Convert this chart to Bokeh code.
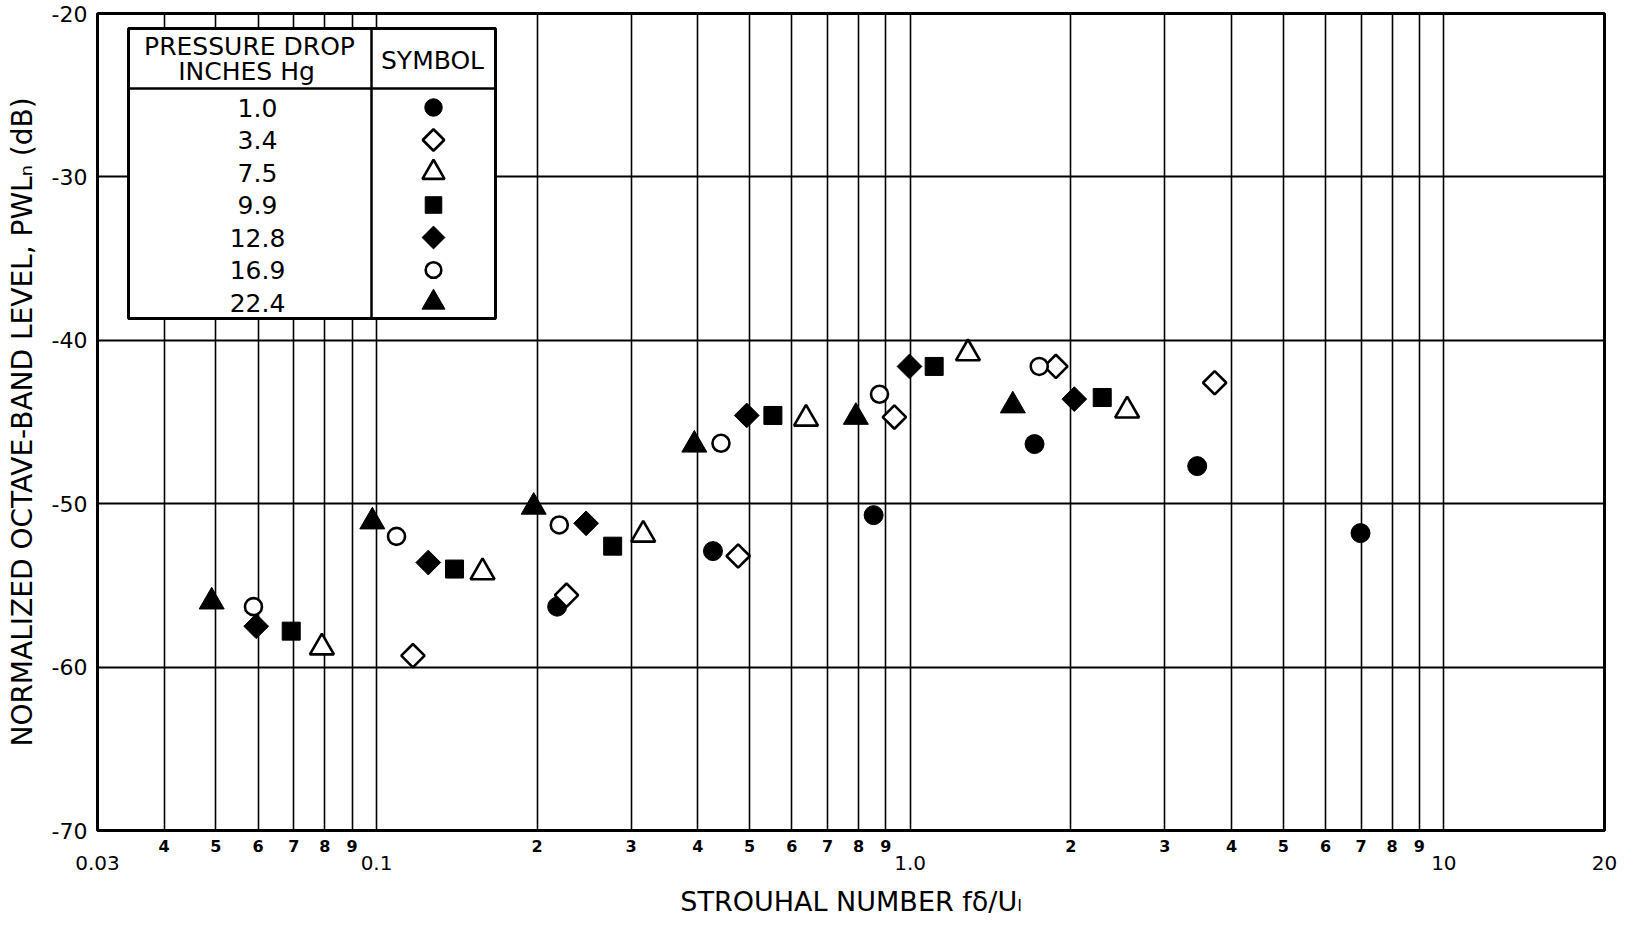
import numpy as np
from bokeh.plotting import figure
from bokeh.models import FixedTicker, LogAxis
from bokeh.core.properties import value
from bokeh.embed import file_html
from bokeh.resources import INLINE

# ---------------- data ----------------
pressure_drops = ["1.0", "3.4", "7.5", "9.9", "12.8", "16.9", "22.4"]

st_1_0 = [0.218, 0.427, 0.854, 1.71, 3.45, 6.98]
pwl_1_0 = [-56.3, -52.9, -50.7, -46.35, -47.7, -51.8]

st_3_4 = [0.117, 0.227, 0.476, 0.934, 1.875, 3.72]
pwl_3_4 = [-59.3, -55.6, -53.2, -44.7, -41.6, -42.6]

st_7_5 = [0.079, 0.158, 0.316, 0.638, 1.283, 2.55]
pwl_7_5 = [-58.8, -54.2, -51.9, -44.8, -40.8, -44.3]

st_9_9 = [0.0692, 0.140, 0.277, 0.553, 1.109, 2.29]
pwl_9_9 = [-57.8, -54.0, -52.6, -44.6, -41.6, -43.5]

st_12_8 = [0.0595, 0.125, 0.247, 0.494, 0.997, 2.03]
pwl_12_8 = [-57.5, -53.6, -51.2, -44.6, -41.6, -43.6]

st_16_9 = [0.0588, 0.109, 0.220, 0.442, 0.876, 1.745]
pwl_16_9 = [-56.3, -52.0, -51.3, -46.3, -43.3, -41.6]

st_22_4 = [0.0491, 0.0982, 0.197, 0.394, 0.791, 1.557]
pwl_22_4 = [-56.0, -51.1, -50.2, -46.4, -44.7, -44.0]

x_minor_ticks = [0.04, 0.05, 0.06, 0.07, 0.08, 0.09,
                 0.2, 0.3, 0.4, 0.5, 0.6, 0.7, 0.8, 0.9,
                 2, 3, 4, 5, 6, 7, 8, 9]
x_minor_labels = ["4", "5", "6", "7", "8", "9",
                  "2", "3", "4", "5", "6", "7", "8", "9",
                  "2", "3", "4", "5", "6", "7", "8", "9"]
x_major_ticks = [0.03, 0.1, 1, 10, 20]
x_major_labels = ["0.03", "0.1", "1.0", "10", "20"]
y_ticks = [-70, -60, -50, -40, -30, -20]
y_labels = ["-70", "-60", "-50", "-40", "-30", "-20"]

# ---------------- layout ----------------
W, H = 1638, 928
FL, FR, FT, FB = 97, 1604, 13, 830
X0, X1 = 0.03, 20
Y0, Y1 = -70, -20
FONT = "DejaVu Sans"

p = figure(width=W, height=H, x_axis_type="log", x_range=(X0, X1), y_range=(Y0, Y1),
           output_backend="svg", toolbar_location=None,
           min_border_left=FL, min_border_right=W - FR,
           min_border_top=FT, min_border_bottom=H - FB)
p.background_fill_color = "white"
p.border_fill_color = "white"
p.outline_line_color = "black"
p.outline_line_width = 3

LX0, LX1 = np.log10(X0), np.log10(X1)


def px_x(px):
    return 10 ** (LX0 + (px - FL) / (FR - FL) * (LX1 - LX0))


def px_y(py):
    return Y1 - (py - FT) / (FB - FT) * (Y1 - Y0)


# grid
p.xgrid.ticker = FixedTicker(ticks=sorted(x_minor_ticks + x_major_ticks))
p.xgrid.grid_line_color = "black"
p.xgrid.grid_line_width = 1.6
p.ygrid.ticker = FixedTicker(ticks=y_ticks)
p.ygrid.grid_line_color = "black"
p.ygrid.grid_line_width = 2

# x axis (minor digit labels)
xa = p.xaxis[0]
xa.ticker = FixedTicker(ticks=x_minor_ticks)
xa.major_label_overrides = {t: l for t, l in zip(x_minor_ticks, x_minor_labels)}
xa.major_tick_line_color = None
xa.minor_tick_line_color = None
xa.axis_line_color = None
xa.major_label_standoff = 3
xa.major_label_text_font = FONT
xa.major_label_text_font_size = "16px"
xa.major_label_text_font_style = "bold"
xa.major_label_text_color = "black"

# x axis (decade labels + title)
xa2 = LogAxis(ticker=FixedTicker(ticks=x_major_ticks),
              major_label_overrides={t: l for t, l in zip(x_major_ticks, x_major_labels)})
xa2.major_tick_line_color = None
xa2.minor_tick_line_color = None
xa2.axis_line_color = None
xa2.major_label_standoff = -5
xa2.major_label_text_font = FONT
xa2.major_label_text_font_size = "20px"
xa2.major_label_text_color = "black"
xa2.axis_label = "STROUHAL NUMBER fδ/Uₗ"
xa2.axis_label_text_font = FONT
xa2.axis_label_text_font_size = "27px"
xa2.axis_label_text_font_style = "normal"
xa2.axis_label_text_color = "black"
xa2.axis_label_standoff = 13
p.add_layout(xa2, "below")

# y axis
ya = p.yaxis[0]
ya.ticker = FixedTicker(ticks=y_ticks)
ya.major_label_overrides = {t: l for t, l in zip(y_ticks, y_labels)}
ya.major_tick_line_color = None
ya.minor_tick_line_color = None
ya.axis_line_color = None
ya.major_label_standoff = 4
ya.major_label_text_font = FONT
ya.major_label_text_font_size = "22px"
ya.major_label_text_color = "black"
ya.axis_label = "NORMALIZED OCTAVE-BAND LEVEL, PWLₙ (dB)"
ya.axis_label_text_font = FONT
ya.axis_label_text_font_size = "28px"
ya.axis_label_text_font_style = "normal"
ya.axis_label_text_color = "black"
ya.axis_label_standoff = 10

# ---------------- series ----------------
series = [
    (st_1_0, pwl_1_0, dict(marker="circle", size=19, angle=0, fill_color="black")),
    (st_3_4, pwl_3_4, dict(marker="square", size=16.5, angle=np.pi / 4, fill_color="white")),
    (st_7_5, pwl_7_5, dict(marker="triangle", size=24, angle=0, fill_color="white")),
    (st_9_9, pwl_9_9, dict(marker="square", size=18, angle=0, fill_color="black")),
    (st_12_8, pwl_12_8, dict(marker="square", size=17.5, angle=np.pi / 4, fill_color="black")),
    (st_16_9, pwl_16_9, dict(marker="circle", size=17, angle=0, fill_color="white")),
    (st_22_4, pwl_22_4, dict(marker="triangle", size=25, angle=0, fill_color="black")),
]

for xs, ys, st in series:
    lw = 2.6 if st["fill_color"] == "white" else 1
    p.scatter(x=xs, y=ys, marker=st["marker"], size=st["size"], angle=st["angle"],
              fill_color=st["fill_color"], line_color="black", line_width=lw)

# ---------------- legend table ----------------
LB_L, LB_R, LB_T, LB_B = 128, 495, 28, 318
p.quad(left=[px_x(LB_L)], right=[px_x(LB_R)], top=[px_y(LB_T)], bottom=[px_y(LB_B)],
       fill_color="white", line_color="black", line_width=3)
p.segment(x0=[px_x(LB_L), px_x(371)], y0=[px_y(88), px_y(LB_T)],
          x1=[px_x(LB_R), px_x(371)], y1=[px_y(88), px_y(LB_B)],
          line_color="black", line_width=2.5)
p.text(x=[px_x(249), px_x(246), px_x(432)], y=[px_y(46), px_y(71), px_y(60)],
       text=["PRESSURE DROP", "INCHES Hg", "SYMBOL"],
       text_align="center", text_baseline="middle",
       text_font=value(FONT), text_font_size="25px", text_color="black")

row_y = [px_y(107 + 32.5 * i) for i in range(len(pressure_drops))]
p.text(x=[px_x(257)] * len(pressure_drops), y=row_y, text=pressure_drops,
       text_align="center", text_baseline="middle",
       text_font=value(FONT), text_font_size="25px", text_color="black")
for i, (_, _, st) in enumerate(series):
    lw = 2.6 if st["fill_color"] == "white" else 1
    p.scatter(x=[px_x(433)], y=[row_y[i]], marker=st["marker"], size=st["size"] * 0.92,
              angle=st["angle"], fill_color=st["fill_color"], line_color="black", line_width=lw)

open("out.html", "w").write(file_html(p, INLINE))
